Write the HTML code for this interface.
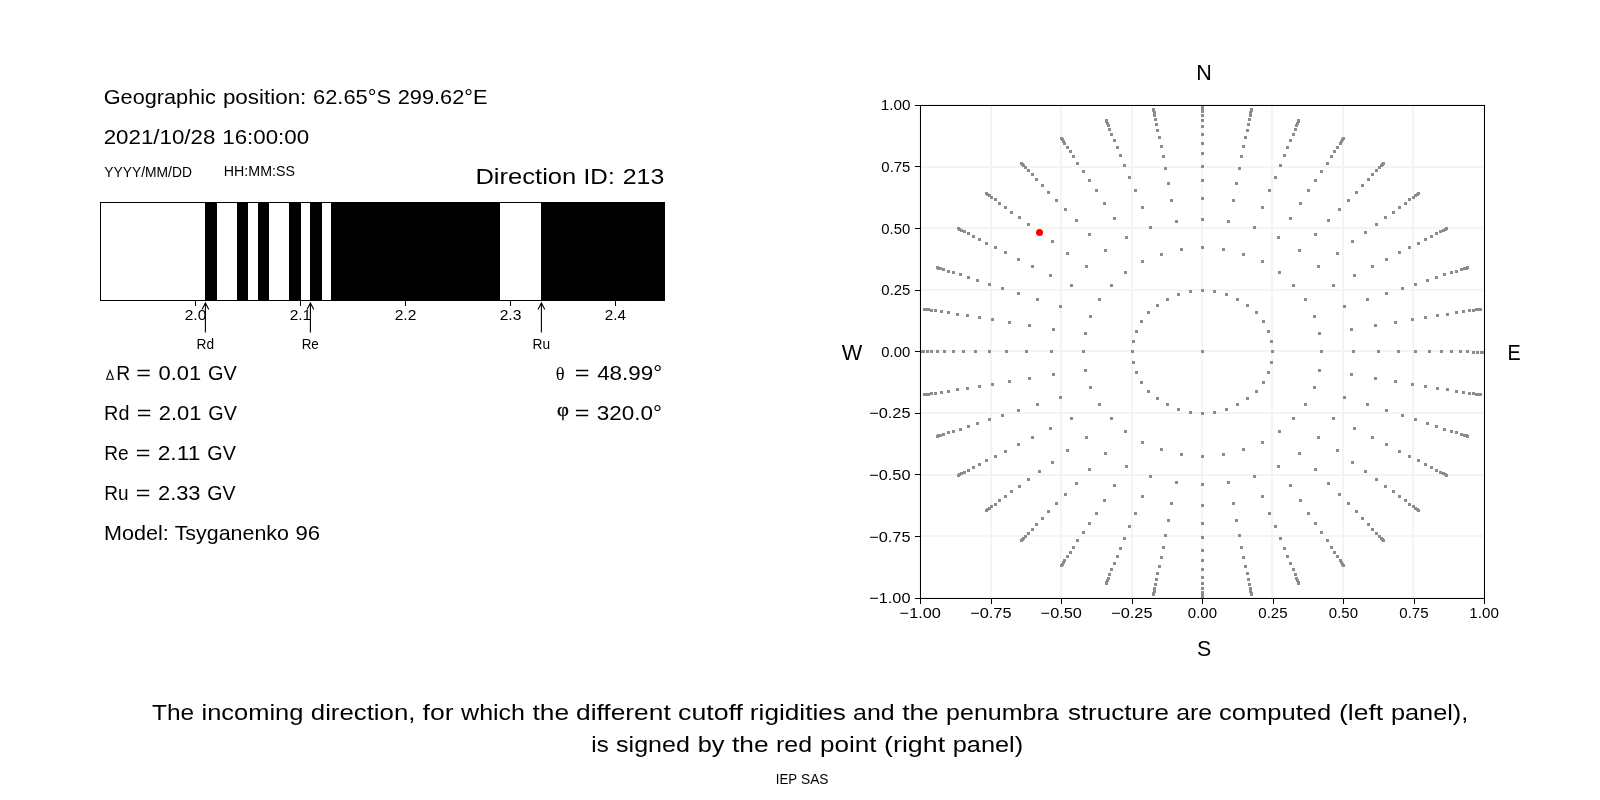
<!DOCTYPE html><html><head><meta charset="utf-8"><style>html,body{margin:0;padding:0;background:#fff;width:1600px;height:800px;overflow:hidden}svg{display:block;will-change:transform}text{font-family:"Liberation Sans",sans-serif;fill:#000}</style></head><body>
<svg width="1600" height="800" viewBox="0 0 1600 800">
<rect x="0" y="0" width="1600" height="800" fill="#fff"/>
<g shape-rendering="crispEdges">
<rect x="205" y="202" width="12" height="99" fill="#000"/>
<rect x="237" y="202" width="11" height="99" fill="#000"/>
<rect x="258" y="202" width="11" height="99" fill="#000"/>
<rect x="289" y="202" width="12" height="99" fill="#000"/>
<rect x="310" y="202" width="12" height="99" fill="#000"/>
<rect x="331" y="202" width="169" height="99" fill="#000"/>
<rect x="541" y="202" width="124" height="99" fill="#000"/>
<rect x="100.5" y="202.5" width="564" height="98" fill="none" stroke="#000" stroke-width="1"/>
<rect x="195" y="301" width="1" height="4.5" fill="#000"/>
<rect x="300" y="301" width="1" height="4.5" fill="#000"/>
<rect x="405" y="301" width="1" height="4.5" fill="#000"/>
<rect x="510" y="301" width="1" height="4.5" fill="#000"/>
<rect x="615" y="301" width="1" height="4.5" fill="#000"/>
</g>
<path d="M205.40 332.5 L205.40 303.2 M202.00 309.4 L205.40 303.0 L208.80 309.4" fill="none" stroke="#000" stroke-width="1.1" stroke-linejoin="miter"/>
<path d="M310.40 332.5 L310.40 303.2 M307.00 309.4 L310.40 303.0 L313.80 309.4" fill="none" stroke="#000" stroke-width="1.1" stroke-linejoin="miter"/>
<path d="M541.40 332.5 L541.40 303.2 M538.00 309.4 L541.40 303.0 L544.80 309.4" fill="none" stroke="#000" stroke-width="1.1" stroke-linejoin="miter"/>
<path d="M919 105h2v494h-2zM920 597h565v2h-565zM990 105h2v494h-2zM920 535h565v2h-565zM1060 105h2v494h-2zM920 474h565v2h-565zM1131 105h2v494h-2zM920 412h565v2h-565zM1201 105h2v494h-2zM920 350h565v2h-565zM1271 105h2v494h-2zM920 289h565v2h-565zM1342 105h2v494h-2zM920 227h565v2h-565zM1412 105h2v494h-2zM920 166h565v2h-565zM1483 105h2v494h-2zM920 104h565v2h-565z" fill="#f4f4f4" shape-rendering="crispEdges"/>
<defs><clipPath id="ax"><rect x="920" y="105" width="565" height="494"/></clipPath></defs>
<path d="M1201 350h3v3h-3zM1131 350h3v3h-3zM1132 361h3v3h-3zM1135 371h3v3h-3zM1140 381h3v3h-3zM1147 390h3v3h-3zM1156 397h3v3h-3zM1166 403h3v3h-3zM1177 408h3v3h-3zM1189 411h3v3h-3zM1201 412h3v3h-3zM1213 411h3v3h-3zM1225 408h3v3h-3zM1236 403h3v3h-3zM1246 397h3v3h-3zM1255 390h3v3h-3zM1262 381h3v3h-3zM1267 371h3v3h-3zM1270 361h3v3h-3zM1271 350h3v3h-3zM1270 340h3v3h-3zM1267 330h3v3h-3zM1262 320h3v3h-3zM1255 311h3v3h-3zM1246 304h3v3h-3zM1236 298h3v3h-3zM1225 293h3v3h-3zM1213 290h3v3h-3zM1201 289h3v3h-3zM1189 290h3v3h-3zM1177 293h3v3h-3zM1166 298h3v3h-3zM1156 304h3v3h-3zM1147 311h3v3h-3zM1140 320h3v3h-3zM1135 330h3v3h-3zM1132 340h3v3h-3zM1082 350h3v3h-3zM1084 369h3v3h-3zM1089 386h3v3h-3zM1098 403h3v3h-3zM1110 417h3v3h-3zM1124 430h3v3h-3zM1141 441h3v3h-3zM1160 448h3v3h-3zM1180 453h3v3h-3zM1201 455h3v3h-3zM1222 453h3v3h-3zM1242 448h3v3h-3zM1261 441h3v3h-3zM1278 430h3v3h-3zM1292 417h3v3h-3zM1304 403h3v3h-3zM1313 386h3v3h-3zM1318 369h3v3h-3zM1320 350h3v3h-3zM1318 332h3v3h-3zM1313 315h3v3h-3zM1304 298h3v3h-3zM1292 284h3v3h-3zM1278 271h3v3h-3zM1261 260h3v3h-3zM1242 253h3v3h-3zM1222 248h3v3h-3zM1201 246h3v3h-3zM1180 248h3v3h-3zM1160 253h3v3h-3zM1141 260h3v3h-3zM1124 271h3v3h-3zM1110 284h3v3h-3zM1098 298h3v3h-3zM1089 315h3v3h-3zM1084 332h3v3h-3zM1050 350h3v3h-3zM1052 373h3v3h-3zM1059 396h3v3h-3zM1070 417h3v3h-3zM1085 436h3v3h-3zM1104 452h3v3h-3zM1125 465h3v3h-3zM1149 475h3v3h-3zM1175 481h3v3h-3zM1201 483h3v3h-3zM1227 481h3v3h-3zM1253 475h3v3h-3zM1277 465h3v3h-3zM1298 452h3v3h-3zM1317 436h3v3h-3zM1332 417h3v3h-3zM1343 396h3v3h-3zM1350 373h3v3h-3zM1352 350h3v3h-3zM1350 328h3v3h-3zM1343 305h3v3h-3zM1332 284h3v3h-3zM1317 265h3v3h-3zM1298 249h3v3h-3zM1277 236h3v3h-3zM1253 226h3v3h-3zM1227 220h3v3h-3zM1201 218h3v3h-3zM1175 220h3v3h-3zM1149 226h3v3h-3zM1125 236h3v3h-3zM1104 249h3v3h-3zM1085 265h3v3h-3zM1070 284h3v3h-3zM1059 305h3v3h-3zM1052 328h3v3h-3zM1025 350h3v3h-3zM1028 377h3v3h-3zM1036 403h3v3h-3zM1049 427h3v3h-3zM1066 449h3v3h-3zM1088 468h3v3h-3zM1113 484h3v3h-3zM1141 495h3v3h-3zM1170 502h3v3h-3zM1201 504h3v3h-3zM1232 502h3v3h-3zM1261 495h3v3h-3zM1289 484h3v3h-3zM1314 468h3v3h-3zM1336 449h3v3h-3zM1353 427h3v3h-3zM1366 403h3v3h-3zM1374 377h3v3h-3zM1377 350h3v3h-3zM1374 324h3v3h-3zM1366 298h3v3h-3zM1353 274h3v3h-3zM1336 252h3v3h-3zM1314 233h3v3h-3zM1289 217h3v3h-3zM1261 206h3v3h-3zM1232 199h3v3h-3zM1201 197h3v3h-3zM1170 199h3v3h-3zM1141 206h3v3h-3zM1113 217h3v3h-3zM1088 233h3v3h-3zM1066 252h3v3h-3zM1049 274h3v3h-3zM1036 298h3v3h-3zM1028 324h3v3h-3zM1005 350h3v3h-3zM1008 380h3v3h-3zM1017 409h3v3h-3zM1031 436h3v3h-3zM1051 461h3v3h-3zM1075 482h3v3h-3zM1103 499h3v3h-3zM1134 512h3v3h-3zM1167 519h3v3h-3zM1201 522h3v3h-3zM1235 519h3v3h-3zM1268 512h3v3h-3zM1299 499h3v3h-3zM1327 482h3v3h-3zM1351 461h3v3h-3zM1371 436h3v3h-3zM1385 409h3v3h-3zM1394 380h3v3h-3zM1397 350h3v3h-3zM1394 321h3v3h-3zM1385 292h3v3h-3zM1371 265h3v3h-3zM1351 240h3v3h-3zM1327 219h3v3h-3zM1299 202h3v3h-3zM1268 189h3v3h-3zM1235 182h3v3h-3zM1201 179h3v3h-3zM1167 182h3v3h-3zM1134 189h3v3h-3zM1103 202h3v3h-3zM1075 219h3v3h-3zM1051 240h3v3h-3zM1031 265h3v3h-3zM1017 292h3v3h-3zM1008 321h3v3h-3zM988 350h3v3h-3zM991 383h3v3h-3zM1001 414h3v3h-3zM1017 443h3v3h-3zM1038 470h3v3h-3zM1064 493h3v3h-3zM1095 512h3v3h-3zM1128 525h3v3h-3zM1164 534h3v3h-3zM1201 536h3v3h-3zM1238 534h3v3h-3zM1274 525h3v3h-3zM1307 512h3v3h-3zM1338 493h3v3h-3zM1364 470h3v3h-3zM1385 443h3v3h-3zM1401 414h3v3h-3zM1411 383h3v3h-3zM1414 350h3v3h-3zM1411 318h3v3h-3zM1401 287h3v3h-3zM1385 258h3v3h-3zM1364 231h3v3h-3zM1338 208h3v3h-3zM1307 189h3v3h-3zM1274 176h3v3h-3zM1238 167h3v3h-3zM1201 165h3v3h-3zM1164 167h3v3h-3zM1128 176h3v3h-3zM1095 189h3v3h-3zM1064 208h3v3h-3zM1038 231h3v3h-3zM1017 258h3v3h-3zM1001 287h3v3h-3zM991 318h3v3h-3zM974 350h3v3h-3zM978 385h3v3h-3zM988 418h3v3h-3zM1004 450h3v3h-3zM1027 478h3v3h-3zM1055 502h3v3h-3zM1088 522h3v3h-3zM1123 537h3v3h-3zM1162 546h3v3h-3zM1201 549h3v3h-3zM1240 546h3v3h-3zM1279 537h3v3h-3zM1314 522h3v3h-3zM1347 502h3v3h-3zM1375 478h3v3h-3zM1398 450h3v3h-3zM1414 418h3v3h-3zM1424 385h3v3h-3zM1428 350h3v3h-3zM1424 316h3v3h-3zM1414 283h3v3h-3zM1398 251h3v3h-3zM1375 223h3v3h-3zM1347 199h3v3h-3zM1314 179h3v3h-3zM1279 164h3v3h-3zM1240 155h3v3h-3zM1201 152h3v3h-3zM1162 155h3v3h-3zM1123 164h3v3h-3zM1088 179h3v3h-3zM1055 199h3v3h-3zM1027 223h3v3h-3zM1004 251h3v3h-3zM988 283h3v3h-3zM978 316h3v3h-3zM962 350h3v3h-3zM966 387h3v3h-3zM976 422h3v3h-3zM994 455h3v3h-3zM1018 485h3v3h-3zM1047 510h3v3h-3zM1082 531h3v3h-3zM1119 547h3v3h-3zM1160 556h3v3h-3zM1201 559h3v3h-3zM1242 556h3v3h-3zM1283 547h3v3h-3zM1320 531h3v3h-3zM1355 510h3v3h-3zM1384 485h3v3h-3zM1408 455h3v3h-3zM1426 422h3v3h-3zM1436 387h3v3h-3zM1440 350h3v3h-3zM1436 314h3v3h-3zM1426 279h3v3h-3zM1408 246h3v3h-3zM1384 216h3v3h-3zM1355 191h3v3h-3zM1320 170h3v3h-3zM1283 154h3v3h-3zM1242 145h3v3h-3zM1201 142h3v3h-3zM1160 145h3v3h-3zM1119 154h3v3h-3zM1082 170h3v3h-3zM1047 191h3v3h-3zM1018 216h3v3h-3zM994 246h3v3h-3zM976 279h3v3h-3zM966 314h3v3h-3zM952 350h3v3h-3zM956 388h3v3h-3zM967 425h3v3h-3zM985 459h3v3h-3zM1010 490h3v3h-3zM1041 517h3v3h-3zM1076 539h3v3h-3zM1116 555h3v3h-3zM1158 565h3v3h-3zM1201 568h3v3h-3zM1244 565h3v3h-3zM1286 555h3v3h-3zM1326 539h3v3h-3zM1361 517h3v3h-3zM1392 490h3v3h-3zM1417 459h3v3h-3zM1435 425h3v3h-3zM1446 388h3v3h-3zM1450 350h3v3h-3zM1446 313h3v3h-3zM1435 276h3v3h-3zM1417 242h3v3h-3zM1392 211h3v3h-3zM1361 184h3v3h-3zM1326 162h3v3h-3zM1286 146h3v3h-3zM1244 136h3v3h-3zM1201 133h3v3h-3zM1158 136h3v3h-3zM1116 146h3v3h-3zM1076 162h3v3h-3zM1041 184h3v3h-3zM1010 211h3v3h-3zM985 242h3v3h-3zM967 276h3v3h-3zM956 313h3v3h-3zM943 350h3v3h-3zM947 390h3v3h-3zM959 428h3v3h-3zM978 463h3v3h-3zM1004 495h3v3h-3zM1035 523h3v3h-3zM1072 546h3v3h-3zM1113 562h3v3h-3zM1156 572h3v3h-3zM1201 576h3v3h-3zM1246 572h3v3h-3zM1289 562h3v3h-3zM1330 546h3v3h-3zM1367 523h3v3h-3zM1398 495h3v3h-3zM1424 463h3v3h-3zM1443 428h3v3h-3zM1455 390h3v3h-3zM1459 350h3v3h-3zM1455 311h3v3h-3zM1443 273h3v3h-3zM1424 238h3v3h-3zM1398 206h3v3h-3zM1367 178h3v3h-3zM1330 155h3v3h-3zM1289 139h3v3h-3zM1246 129h3v3h-3zM1201 125h3v3h-3zM1156 129h3v3h-3zM1113 139h3v3h-3zM1072 155h3v3h-3zM1035 178h3v3h-3zM1004 206h3v3h-3zM978 238h3v3h-3zM959 273h3v3h-3zM947 311h3v3h-3zM936 350h3v3h-3zM940 391h3v3h-3zM952 430h3v3h-3zM972 466h3v3h-3zM998 499h3v3h-3zM1031 528h3v3h-3zM1069 551h3v3h-3zM1110 568h3v3h-3zM1155 578h3v3h-3zM1201 582h3v3h-3zM1247 578h3v3h-3zM1292 568h3v3h-3zM1333 551h3v3h-3zM1371 528h3v3h-3zM1404 499h3v3h-3zM1430 466h3v3h-3zM1450 430h3v3h-3zM1462 391h3v3h-3zM1466 350h3v3h-3zM1462 310h3v3h-3zM1450 271h3v3h-3zM1430 235h3v3h-3zM1404 202h3v3h-3zM1371 173h3v3h-3zM1333 150h3v3h-3zM1292 133h3v3h-3zM1247 123h3v3h-3zM1201 119h3v3h-3zM1155 123h3v3h-3zM1110 133h3v3h-3zM1069 150h3v3h-3zM1031 173h3v3h-3zM998 202h3v3h-3zM972 235h3v3h-3zM952 271h3v3h-3zM940 310h3v3h-3zM930 350h3v3h-3zM934 392h3v3h-3zM947 431h3v3h-3zM967 469h3v3h-3zM994 503h3v3h-3zM1027 532h3v3h-3zM1066 555h3v3h-3zM1108 573h3v3h-3zM1154 583h3v3h-3zM1201 587h3v3h-3zM1248 583h3v3h-3zM1294 573h3v3h-3zM1336 555h3v3h-3zM1375 532h3v3h-3zM1408 503h3v3h-3zM1435 469h3v3h-3zM1455 431h3v3h-3zM1468 392h3v3h-3zM1472 351h3v3h-3zM1468 309h3v3h-3zM1455 270h3v3h-3zM1435 232h3v3h-3zM1408 198h3v3h-3zM1375 169h3v3h-3zM1336 146h3v3h-3zM1294 128h3v3h-3zM1248 118h3v3h-3zM1201 114h3v3h-3zM1154 118h3v3h-3zM1108 128h3v3h-3zM1066 146h3v3h-3zM1027 169h3v3h-3zM994 198h3v3h-3zM967 232h3v3h-3zM947 270h3v3h-3zM934 309h3v3h-3zM926 350h3v3h-3zM930 392h3v3h-3zM942 433h3v3h-3zM963 471h3v3h-3zM990 505h3v3h-3zM1024 535h3v3h-3zM1063 559h3v3h-3zM1107 577h3v3h-3zM1153 587h3v3h-3zM1201 591h3v3h-3zM1249 587h3v3h-3zM1295 577h3v3h-3zM1339 559h3v3h-3zM1378 535h3v3h-3zM1412 505h3v3h-3zM1439 471h3v3h-3zM1460 433h3v3h-3zM1472 392h3v3h-3zM1476 351h3v3h-3zM1472 309h3v3h-3zM1460 268h3v3h-3zM1439 230h3v3h-3zM1412 196h3v3h-3zM1378 166h3v3h-3zM1339 142h3v3h-3zM1295 124h3v3h-3zM1249 114h3v3h-3zM1201 110h3v3h-3zM1153 114h3v3h-3zM1107 124h3v3h-3zM1063 142h3v3h-3zM1024 166h3v3h-3zM990 196h3v3h-3zM963 230h3v3h-3zM942 268h3v3h-3zM930 309h3v3h-3zM922 350h3v3h-3zM927 393h3v3h-3zM939 434h3v3h-3zM960 472h3v3h-3zM988 507h3v3h-3zM1022 537h3v3h-3zM1062 561h3v3h-3zM1106 579h3v3h-3zM1153 590h3v3h-3zM1201 594h3v3h-3zM1249 590h3v3h-3zM1296 579h3v3h-3zM1340 561h3v3h-3zM1380 537h3v3h-3zM1414 507h3v3h-3zM1442 472h3v3h-3zM1463 434h3v3h-3zM1475 393h3v3h-3zM1480 351h3v3h-3zM1475 308h3v3h-3zM1463 267h3v3h-3zM1442 229h3v3h-3zM1414 194h3v3h-3zM1380 164h3v3h-3zM1340 140h3v3h-3zM1296 122h3v3h-3zM1249 111h3v3h-3zM1201 107h3v3h-3zM1153 111h3v3h-3zM1106 122h3v3h-3zM1062 140h3v3h-3zM1022 164h3v3h-3zM988 194h3v3h-3zM960 229h3v3h-3zM939 267h3v3h-3zM927 308h3v3h-3zM920 350h3v3h-3zM925 393h3v3h-3zM937 434h3v3h-3zM958 473h3v3h-3zM986 508h3v3h-3zM1021 538h3v3h-3zM1061 563h3v3h-3zM1105 581h3v3h-3zM1152 592h3v3h-3zM1201 596h3v3h-3zM1250 592h3v3h-3zM1297 581h3v3h-3zM1341 563h3v3h-3zM1381 538h3v3h-3zM1416 508h3v3h-3zM1444 473h3v3h-3zM1465 434h3v3h-3zM1477 393h3v3h-3zM1482 351h3v3h-3zM1477 308h3v3h-3zM1465 267h3v3h-3zM1444 228h3v3h-3zM1416 193h3v3h-3zM1381 163h3v3h-3zM1341 138h3v3h-3zM1297 120h3v3h-3zM1250 109h3v3h-3zM1201 105h3v3h-3zM1152 109h3v3h-3zM1105 120h3v3h-3zM1061 138h3v3h-3zM1021 163h3v3h-3zM986 193h3v3h-3zM958 228h3v3h-3zM937 267h3v3h-3zM925 308h3v3h-3zM919 350h3v3h-3zM923 393h3v3h-3zM936 435h3v3h-3zM957 474h3v3h-3zM985 509h3v3h-3zM1020 539h3v3h-3zM1060 564h3v3h-3zM1105 582h3v3h-3zM1152 593h3v3h-3zM1201 597h3v3h-3zM1250 593h3v3h-3zM1297 582h3v3h-3zM1342 564h3v3h-3zM1382 539h3v3h-3zM1417 509h3v3h-3zM1445 474h3v3h-3zM1466 435h3v3h-3zM1479 393h3v3h-3zM1483 351h3v3h-3zM1479 308h3v3h-3zM1466 266h3v3h-3zM1445 227h3v3h-3zM1417 192h3v3h-3zM1382 162h3v3h-3zM1342 137h3v3h-3zM1297 119h3v3h-3zM1250 108h3v3h-3zM1201 104h3v3h-3zM1152 108h3v3h-3zM1105 119h3v3h-3zM1060 137h3v3h-3zM1020 162h3v3h-3zM985 192h3v3h-3zM957 227h3v3h-3zM936 266h3v3h-3zM923 308h3v3h-3z" fill="#8c8c8c" shape-rendering="crispEdges" clip-path="url(#ax)"/>
<circle cx="1039.50" cy="232.44" r="3.5" fill="#ff0000"/>
<g shape-rendering="crispEdges">
<rect x="920.5" y="105.5" width="564" height="493" fill="none" stroke="#000" stroke-width="1"/>
<rect x="920" y="599" width="1" height="5" fill="#000"/>
<rect x="915" y="598" width="5" height="1" fill="#000"/>
<rect x="991" y="599" width="1" height="5" fill="#000"/>
<rect x="915" y="536" width="5" height="1" fill="#000"/>
<rect x="1061" y="599" width="1" height="5" fill="#000"/>
<rect x="915" y="474" width="5" height="1" fill="#000"/>
<rect x="1132" y="599" width="1" height="5" fill="#000"/>
<rect x="915" y="413" width="5" height="1" fill="#000"/>
<rect x="1202" y="599" width="1" height="5" fill="#000"/>
<rect x="915" y="351" width="5" height="1" fill="#000"/>
<rect x="1273" y="599" width="1" height="5" fill="#000"/>
<rect x="915" y="290" width="5" height="1" fill="#000"/>
<rect x="1343" y="599" width="1" height="5" fill="#000"/>
<rect x="915" y="228" width="5" height="1" fill="#000"/>
<rect x="1414" y="599" width="1" height="5" fill="#000"/>
<rect x="915" y="166" width="5" height="1" fill="#000"/>
<rect x="1484" y="599" width="1" height="5" fill="#000"/>
<rect x="915" y="105" width="5" height="1" fill="#000"/>
</g>
<path d="M106.6 379.2 L110 370.6 L113.4 379.2 Z" fill="none" stroke="#000" stroke-width="1.1" stroke-linejoin="miter"/>
<text x="555.8" y="380" font-size="18.540" font-family="Liberation Serif" style="font-family:'Liberation Serif',serif">θ</text>
<text x="557.0" y="415.8" font-size="19.1" textLength="11.9" lengthAdjust="spacingAndGlyphs" stroke="#000" stroke-width="0.35" style="font-family:'Liberation Serif',serif">φ</text>
<text x="103.75" y="103.75" font-size="20.600" textLength="112.10" lengthAdjust="spacingAndGlyphs">Geographic</text>
<text x="222.92" y="103.75" font-size="20.600" textLength="83.44" lengthAdjust="spacingAndGlyphs">position:</text>
<text x="313.05" y="103.75" font-size="20.600" textLength="78.02" lengthAdjust="spacingAndGlyphs">62.65°S</text>
<text x="397.73" y="103.75" font-size="20.600" textLength="89.80" lengthAdjust="spacingAndGlyphs">299.62°E</text>
<text x="103.72" y="144.00" font-size="20.600" textLength="111.65" lengthAdjust="spacingAndGlyphs">2021/10/28</text>
<text x="222.34" y="144.00" font-size="20.600" textLength="86.79" lengthAdjust="spacingAndGlyphs">16:00:00</text>
<text x="104.29" y="176.90" font-size="14.800" textLength="87.68" lengthAdjust="spacingAndGlyphs">YYYY/MM/DD</text>
<text x="223.84" y="176.25" font-size="14.800" textLength="71.05" lengthAdjust="spacingAndGlyphs">HH:MM:SS</text>
<text x="475.40" y="183.60" font-size="22.900" textLength="100.88" lengthAdjust="spacingAndGlyphs">Direction</text>
<text x="583.61" y="183.60" font-size="22.900" textLength="31.06" lengthAdjust="spacingAndGlyphs">ID:</text>
<text x="622.74" y="183.60" font-size="22.900" textLength="41.53" lengthAdjust="spacingAndGlyphs">213</text>
<text x="116.21" y="380.00" font-size="20.600" textLength="13.92" lengthAdjust="spacingAndGlyphs">R</text>
<text x="136.36" y="380.00" font-size="20.600" textLength="14.72" lengthAdjust="spacingAndGlyphs">=</text>
<text x="158.58" y="380.00" font-size="20.600" textLength="42.51" lengthAdjust="spacingAndGlyphs">0.01</text>
<text x="208.01" y="380.00" font-size="20.600" textLength="28.79" lengthAdjust="spacingAndGlyphs">GV</text>
<text x="104.12" y="420.00" font-size="20.600" textLength="25.29" lengthAdjust="spacingAndGlyphs">Rd</text>
<text x="136.69" y="420.00" font-size="20.600" textLength="14.72" lengthAdjust="spacingAndGlyphs">=</text>
<text x="158.80" y="420.00" font-size="20.600" textLength="42.62" lengthAdjust="spacingAndGlyphs">2.01</text>
<text x="208.25" y="420.00" font-size="20.600" textLength="28.61" lengthAdjust="spacingAndGlyphs">GV</text>
<text x="104.19" y="460.00" font-size="20.600" textLength="24.34" lengthAdjust="spacingAndGlyphs">Re</text>
<text x="135.69" y="460.00" font-size="20.600" textLength="14.72" lengthAdjust="spacingAndGlyphs">=</text>
<text x="157.70" y="460.00" font-size="20.600" textLength="42.71" lengthAdjust="spacingAndGlyphs">2.11</text>
<text x="207.30" y="460.00" font-size="20.600" textLength="28.55" lengthAdjust="spacingAndGlyphs">GV</text>
<text x="104.25" y="500.00" font-size="20.600" textLength="24.24" lengthAdjust="spacingAndGlyphs">Ru</text>
<text x="135.75" y="500.00" font-size="20.600" textLength="14.70" lengthAdjust="spacingAndGlyphs">=</text>
<text x="158.00" y="500.00" font-size="20.600" textLength="42.54" lengthAdjust="spacingAndGlyphs">2.33</text>
<text x="207.37" y="500.00" font-size="20.600" textLength="28.33" lengthAdjust="spacingAndGlyphs">GV</text>
<text x="103.96" y="540.00" font-size="20.600" textLength="64.72" lengthAdjust="spacingAndGlyphs">Model:</text>
<text x="174.67" y="540.00" font-size="20.600" textLength="114.30" lengthAdjust="spacingAndGlyphs">Tsyganenko</text>
<text x="295.58" y="540.00" font-size="20.600" textLength="24.59" lengthAdjust="spacingAndGlyphs">96</text>
<text x="574.76" y="380.00" font-size="20.600" textLength="14.78" lengthAdjust="spacingAndGlyphs">=</text>
<text x="597.15" y="380.00" font-size="20.600" textLength="65.02" lengthAdjust="spacingAndGlyphs">48.99°</text>
<text x="574.77" y="419.70" font-size="20.600" textLength="14.75" lengthAdjust="spacingAndGlyphs">=</text>
<text x="596.79" y="419.70" font-size="20.600" textLength="65.20" lengthAdjust="spacingAndGlyphs">320.0°</text>
<text x="152.02" y="720.00" font-size="22.900" textLength="42.11" lengthAdjust="spacingAndGlyphs">The</text>
<text x="201.55" y="720.00" font-size="22.900" textLength="101.77" lengthAdjust="spacingAndGlyphs">incoming</text>
<text x="310.79" y="720.00" font-size="22.900" textLength="104.67" lengthAdjust="spacingAndGlyphs">direction,</text>
<text x="422.61" y="720.00" font-size="22.900" textLength="31.08" lengthAdjust="spacingAndGlyphs">for</text>
<text x="461.13" y="720.00" font-size="22.900" textLength="63.89" lengthAdjust="spacingAndGlyphs">which</text>
<text x="532.46" y="720.00" font-size="22.900" textLength="36.59" lengthAdjust="spacingAndGlyphs">the</text>
<text x="576.03" y="720.00" font-size="22.900" textLength="94.69" lengthAdjust="spacingAndGlyphs">different</text>
<text x="678.03" y="720.00" font-size="22.900" textLength="64.99" lengthAdjust="spacingAndGlyphs">cutoff</text>
<text x="749.85" y="720.00" font-size="22.900" textLength="96.12" lengthAdjust="spacingAndGlyphs">rigidities</text>
<text x="853.14" y="720.00" font-size="22.900" textLength="41.54" lengthAdjust="spacingAndGlyphs">and</text>
<text x="902.22" y="720.00" font-size="22.900" textLength="36.45" lengthAdjust="spacingAndGlyphs">the</text>
<text x="946.10" y="720.00" font-size="22.900" textLength="112.60" lengthAdjust="spacingAndGlyphs">penumbra</text>
<text x="1067.93" y="720.00" font-size="22.900" textLength="100.92" lengthAdjust="spacingAndGlyphs">structure</text>
<text x="1176.18" y="720.00" font-size="22.900" textLength="35.95" lengthAdjust="spacingAndGlyphs">are</text>
<text x="1219.08" y="720.00" font-size="22.900" textLength="112.08" lengthAdjust="spacingAndGlyphs">computed</text>
<text x="1339.00" y="720.00" font-size="22.900" textLength="44.13" lengthAdjust="spacingAndGlyphs">(left</text>
<text x="1390.93" y="720.00" font-size="22.900" textLength="77.37" lengthAdjust="spacingAndGlyphs">panel),</text>
<text x="591.33" y="752.30" font-size="22.900" textLength="17.31" lengthAdjust="spacingAndGlyphs">is</text>
<text x="616.09" y="752.30" font-size="22.900" textLength="73.80" lengthAdjust="spacingAndGlyphs">signed</text>
<text x="697.70" y="752.30" font-size="22.900" textLength="26.82" lengthAdjust="spacingAndGlyphs">by</text>
<text x="732.06" y="752.30" font-size="22.900" textLength="36.65" lengthAdjust="spacingAndGlyphs">the</text>
<text x="776.07" y="752.30" font-size="22.900" textLength="36.03" lengthAdjust="spacingAndGlyphs">red</text>
<text x="819.98" y="752.30" font-size="22.900" textLength="56.64" lengthAdjust="spacingAndGlyphs">point</text>
<text x="884.09" y="752.30" font-size="22.900" textLength="61.04" lengthAdjust="spacingAndGlyphs">(right</text>
<text x="952.75" y="752.30" font-size="22.900" textLength="70.37" lengthAdjust="spacingAndGlyphs">panel)</text>
<text x="775.87" y="784.00" font-size="14.800" textLength="21.22" lengthAdjust="spacingAndGlyphs">IEP</text>
<text x="801.02" y="784.00" font-size="14.800" textLength="27.46" lengthAdjust="spacingAndGlyphs">SAS</text>
<text x="1196.31" y="79.70" font-size="22.900" textLength="15.53" lengthAdjust="spacingAndGlyphs">N</text>
<text x="1196.94" y="655.60" font-size="22.900" textLength="14.25" lengthAdjust="spacingAndGlyphs">S</text>
<text x="1507.47" y="359.70" font-size="22.900" textLength="13.20" lengthAdjust="spacingAndGlyphs">E</text>
<text x="841.76" y="360.00" font-size="22.900" textLength="20.52" lengthAdjust="spacingAndGlyphs">W</text>
<text x="184.70" y="319.75" font-size="14.800" textLength="21.60" lengthAdjust="spacingAndGlyphs">2.0</text>
<text x="289.67" y="319.75" font-size="14.800" textLength="21.58" lengthAdjust="spacingAndGlyphs">2.1</text>
<text x="394.68" y="319.75" font-size="14.800" textLength="21.71" lengthAdjust="spacingAndGlyphs">2.2</text>
<text x="499.68" y="319.75" font-size="14.800" textLength="21.71" lengthAdjust="spacingAndGlyphs">2.3</text>
<text x="604.76" y="319.75" font-size="14.800" textLength="21.23" lengthAdjust="spacingAndGlyphs">2.4</text>
<text x="196.56" y="349.00" font-size="14.800" textLength="17.47" lengthAdjust="spacingAndGlyphs">Rd</text>
<text x="301.68" y="349.00" font-size="14.800" textLength="17.16" lengthAdjust="spacingAndGlyphs">Re</text>
<text x="532.58" y="349.00" font-size="14.800" textLength="17.49" lengthAdjust="spacingAndGlyphs">Ru</text>
<text x="869.21" y="603.30" font-size="14.800" textLength="41.26" lengthAdjust="spacingAndGlyphs">−1.00</text>
<text x="899.63" y="617.80" font-size="14.800" textLength="41.26" lengthAdjust="spacingAndGlyphs">−1.00</text>
<text x="869.20" y="541.67" font-size="14.800" textLength="41.34" lengthAdjust="spacingAndGlyphs">−0.75</text>
<text x="970.20" y="617.80" font-size="14.800" textLength="41.34" lengthAdjust="spacingAndGlyphs">−0.75</text>
<text x="869.21" y="480.05" font-size="14.800" textLength="41.26" lengthAdjust="spacingAndGlyphs">−0.50</text>
<text x="1040.63" y="617.80" font-size="14.800" textLength="41.26" lengthAdjust="spacingAndGlyphs">−0.50</text>
<text x="869.20" y="418.43" font-size="14.800" textLength="41.34" lengthAdjust="spacingAndGlyphs">−0.25</text>
<text x="1111.20" y="617.80" font-size="14.800" textLength="41.34" lengthAdjust="spacingAndGlyphs">−0.25</text>
<text x="881.35" y="356.80" font-size="14.800" textLength="28.88" lengthAdjust="spacingAndGlyphs">0.00</text>
<text x="1187.83" y="617.80" font-size="14.800" textLength="29.14" lengthAdjust="spacingAndGlyphs">0.00</text>
<text x="881.37" y="295.18" font-size="14.800" textLength="29.05" lengthAdjust="spacingAndGlyphs">0.25</text>
<text x="1258.33" y="617.80" font-size="14.800" textLength="29.23" lengthAdjust="spacingAndGlyphs">0.25</text>
<text x="881.35" y="233.55" font-size="14.800" textLength="28.88" lengthAdjust="spacingAndGlyphs">0.50</text>
<text x="1328.83" y="617.80" font-size="14.800" textLength="29.14" lengthAdjust="spacingAndGlyphs">0.50</text>
<text x="881.37" y="171.93" font-size="14.800" textLength="29.05" lengthAdjust="spacingAndGlyphs">0.75</text>
<text x="1399.33" y="617.80" font-size="14.800" textLength="29.23" lengthAdjust="spacingAndGlyphs">0.75</text>
<text x="880.67" y="110.30" font-size="14.800" textLength="29.74" lengthAdjust="spacingAndGlyphs">1.00</text>
<text x="1469.35" y="617.80" font-size="14.800" textLength="29.56" lengthAdjust="spacingAndGlyphs">1.00</text>
</svg></body></html>
